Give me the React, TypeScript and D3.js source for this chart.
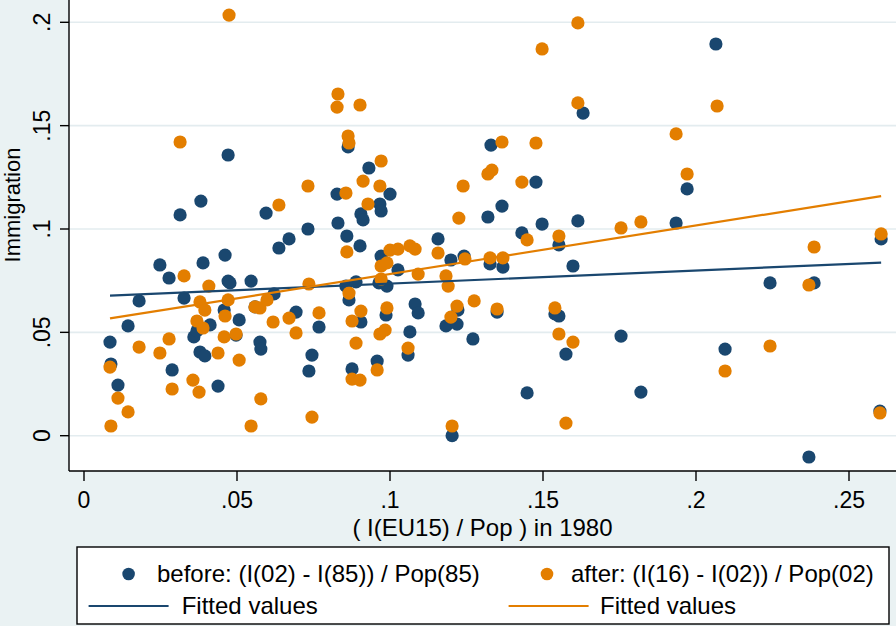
import React from "react";
import * as d3 from "d3";

// ---- data ----
const beforeX = [
  0.0085, 0.0088, 0.0111, 0.0144, 0.018, 0.0248, 0.0278, 0.0288, 0.0314, 0.0327,
  0.0359, 0.0369, 0.0379, 0.0382, 0.0389, 0.0395, 0.0412, 0.0438, 0.0458, 0.0461,
  0.0471, 0.0471, 0.0477, 0.0497, 0.0507, 0.0546, 0.0559, 0.0575, 0.0578, 0.0595,
  0.0621, 0.0637, 0.067, 0.0693, 0.0732, 0.0735, 0.0745, 0.0768, 0.0827, 0.083,
  0.0856, 0.0859, 0.0863, 0.0866, 0.0876, 0.0889, 0.0902, 0.0905, 0.0905, 0.0912,
  0.0931, 0.0958, 0.0964, 0.0967, 0.0971, 0.0971, 0.0987, 0.099, 0.1, 0.1026,
  0.1059, 0.1065, 0.1082, 0.1092, 0.1157, 0.1183, 0.1199, 0.1203, 0.1219, 0.1222,
  0.1242, 0.1271, 0.132, 0.1327, 0.133, 0.135, 0.1366, 0.1369, 0.1431, 0.1448,
  0.1477, 0.1497, 0.1539, 0.1552, 0.1552, 0.1575, 0.1598, 0.1614, 0.1631, 0.1755,
  0.182, 0.1935, 0.1971, 0.2065, 0.2095, 0.2242, 0.2369, 0.2386, 0.2601, 0.2605,
];
const beforeY = [
  0.0453, 0.0347, 0.0245, 0.0531, 0.0652, 0.0826, 0.0763, 0.0318, 0.1068, 0.0666,
  0.0478, 0.0507, 0.0405, 0.1135, 0.0836, 0.0386, 0.0536, 0.024, 0.0608, 0.0874,
  0.0748, 0.1358, 0.0739, 0.0487, 0.056, 0.0748, 0.0623, 0.0453, 0.0419, 0.1077,
  0.0686, 0.0908, 0.0952, 0.0598, 0.1, 0.0313, 0.039, 0.0526, 0.1169, 0.1029,
  0.0724, 0.0966, 0.1397, 0.0657, 0.0323, 0.0744, 0.0918, 0.1073, 0.055, 0.1044,
  0.1295, 0.0361, 0.0739, 0.1121, 0.1087, 0.0869, 0.0584, 0.0724, 0.1169, 0.0802,
  0.039, 0.0502, 0.0637, 0.0594, 0.0952, 0.0531, 0.085, 0.0, 0.054, 0.0608,
  0.0869, 0.0468, 0.1058, 0.0831, 0.1406, 0.0598, 0.1111, 0.0816, 0.0981, 0.0207,
  0.1227, 0.1024, 0.0589, 0.0923, 0.0579, 0.0395, 0.0821, 0.1039, 0.1561, 0.0482,
  0.0211, 0.1029, 0.1194, 0.1895, 0.0419, 0.0739, -0.0103, 0.0739, 0.0119, 0.0952,
];
const afterX = [
  0.0085, 0.0088, 0.0111, 0.0144, 0.018, 0.0248, 0.0278, 0.0288, 0.0314, 0.0327,
  0.0356, 0.0369, 0.0376, 0.0379, 0.0389, 0.0395, 0.0408, 0.0438, 0.0458, 0.0461,
  0.0471, 0.0474, 0.0497, 0.0507, 0.0546, 0.0559, 0.0575, 0.0578, 0.0598, 0.0618,
  0.0637, 0.067, 0.0693, 0.0732, 0.0735, 0.0745, 0.0768, 0.0827, 0.083, 0.0856,
  0.0859, 0.0863, 0.0866, 0.0866, 0.0876, 0.0876, 0.0889, 0.0902, 0.0902, 0.0905,
  0.0912, 0.0928, 0.0958, 0.0967, 0.0967, 0.0971, 0.0971, 0.0971, 0.0984, 0.099,
  0.099, 0.1, 0.1026, 0.1059, 0.1065, 0.1082, 0.1092, 0.1157, 0.1183, 0.119,
  0.1199, 0.1203, 0.1219, 0.1225, 0.1239, 0.1245, 0.1275, 0.132, 0.1327, 0.1333,
  0.135, 0.1366, 0.1369, 0.1431, 0.1448, 0.1477, 0.1497, 0.1539, 0.1552, 0.1552,
  0.1575, 0.1598, 0.1614, 0.1614, 0.1755, 0.182, 0.1935, 0.1971, 0.2069, 0.2095,
  0.2242, 0.2369, 0.2386, 0.2601, 0.2605,
];
const afterY = [
  0.0332, 0.0047, 0.0182, 0.0115, 0.0429, 0.04, 0.0468, 0.0226, 0.1421, 0.0773,
  0.0269, 0.0555, 0.0211, 0.0647, 0.0521, 0.0608, 0.0724, 0.04, 0.0478, 0.0579,
  0.0657, 0.2035, 0.0492, 0.0366, 0.0047, 0.0623, 0.0618, 0.0178, 0.0657, 0.055,
  0.1116, 0.0569, 0.0497, 0.1208, 0.0734, 0.009, 0.0594, 0.159, 0.1653, 0.1174,
  0.0889, 0.145, 0.1416, 0.069, 0.0555, 0.0274, 0.0448, 0.16, 0.0269, 0.0603,
  0.1232, 0.1121, 0.0318, 0.1208, 0.0492, 0.1329, 0.0821, 0.0758, 0.0511, 0.0836,
  0.0618, 0.0898, 0.0903, 0.0424, 0.0918, 0.0903, 0.0782, 0.0884, 0.0773, 0.0724,
  0.0574, 0.0047, 0.0627, 0.1053, 0.1208, 0.0855, 0.0652, 0.1266, 0.086, 0.1285,
  0.0613, 0.1421, 0.086, 0.1227, 0.0947, 0.1416, 0.1871, 0.0618, 0.0492, 0.0966,
  0.0061, 0.0453, 0.1997, 0.161, 0.1005, 0.1034, 0.146, 0.1266, 0.1595, 0.0313,
  0.0434, 0.0729, 0.0913, 0.011, 0.0976,
];

const xTicks = [0, 0.05, 0.1, 0.15, 0.2, 0.25];
const xTickLabels = ["0", ".05", ".1", ".15", ".2", ".25"];
const yTicks = [0, 0.05, 0.1, 0.15, 0.2];
const yTickLabels = ["0", ".05", ".1", ".15", ".2"];

const seriesNames = [
  "before: (I(02) - I(85)) / Pop(85)",
  "after: (I(16) - I(02)) / Pop(02)",
];
const fitName = "Fitted values";
const xTitle = "( I(EU15) / Pop ) in 1980";
const yTitle = "Immigration";

const NAVY = "#1A476F";
const ORANGE = "#E37E00";
const BG = "#EAF2F3";
const GRID = "#E3ECEF";
const FONT = "'Liberation Sans', Arial, sans-serif";

function ols(xs: number[], ys: number[]) {
  const mx = d3.mean(xs) as number;
  const my = d3.mean(ys) as number;
  let sxy = 0;
  let sxx = 0;
  xs.forEach((x, i) => {
    sxy += (x - mx) * (ys[i] - my);
    sxx += (x - mx) * (x - mx);
  });
  const b = sxy / sxx;
  const a = my - b * mx;
  const [x0, x1] = d3.extent(xs) as [number, number];
  return [
    [x0, a + b * x0],
    [x1, a + b * x1],
  ] as [number, number][];
}

export default function App() {
  const W = 896;
  const H = 626;
  const plotL = 69;
  const plotR = 896;
  const plotT = 0;
  const plotB = 471;

  const x = d3.scaleLinear().domain([0, 0.25]).range([84, 849]);
  const y = d3.scaleLinear().domain([0, 0.2]).range([435.7, 22.3]);

  const line = d3
    .line<[number, number]>()
    .x((d) => x(d[0]))
    .y((d) => y(d[1]));

  const fitBefore = ols(beforeX, beforeY);
  const fitAfter = ols(afterX, afterY);

  const fsTick = 23;
  const fs = 24;

  return (
    <svg
      width={W}
      height={H}
      style={{ position: "absolute", left: 0, top: 0 }}
      fontFamily={FONT}
    >
      <rect x={0} y={0} width={W} height={H} fill={BG} />
      <rect x={plotL} y={plotT} width={plotR - plotL} height={plotB - plotT} fill="#fff" />
      {yTicks.map((t) => (
        <line key={"g" + t} x1={plotL} x2={plotR} y1={y(t)} y2={y(t)} stroke={GRID} strokeWidth={1.6} />
      ))}
      {/* markers */}
      {beforeX.map((v, i) => (
        <circle key={"b" + i} cx={x(v)} cy={y(beforeY[i])} r={6.6} fill={NAVY} />
      ))}
      {afterX.map((v, i) => (
        <circle key={"a" + i} cx={x(v)} cy={y(afterY[i])} r={6.6} fill={ORANGE} />
      ))}
      <path d={line(fitBefore) as string} stroke={NAVY} strokeWidth={2.2} fill="none" />
      <path d={line(fitAfter) as string} stroke={ORANGE} strokeWidth={2.2} fill="none" />

      {/* axes */}
      <line x1={plotL} x2={plotL} y1={plotT} y2={plotB} stroke="#000" strokeWidth={1.4} />
      <line x1={plotL} x2={plotR} y1={plotB} y2={plotB} stroke="#000" strokeWidth={1.4} />
      {yTicks.map((t, i) => (
        <g key={"yt" + t}>
          <line x1={60} x2={plotL} y1={y(t)} y2={y(t)} stroke="#000" strokeWidth={1.4} />
          <text
            transform={`translate(50,${y(t)}) rotate(-90)`}
            textAnchor="middle"
            fontSize={fsTick}
            fill="#000"
          >
            {yTickLabels[i]}
          </text>
        </g>
      ))}
      {xTicks.map((t, i) => (
        <g key={"xt" + t}>
          <line x1={x(t)} x2={x(t)} y1={plotB} y2={plotB + 10} stroke="#000" strokeWidth={1.4} />
          <text x={x(t)} y={508} textAnchor="middle" fontSize={fsTick} fill="#000">
            {xTickLabels[i]}
          </text>
        </g>
      ))}
      <text x={(plotL + plotR) / 2} y={536} textAnchor="middle" fontSize={fs} fill="#000">
        {xTitle}
      </text>
      <text transform={`translate(20,205) rotate(-90)`} textAnchor="middle" fontSize={22} fill="#000">
        {yTitle}
      </text>

      {/* legend */}
      <rect x={77} y={547} width={812} height={77} fill="#fff" stroke="#000" strokeWidth={1.4} />
      <circle cx={128.6} cy={574} r={6.3} fill={NAVY} />
      <text x={157} y={582} fontSize={fs} fill="#000">{seriesNames[0]}</text>
      <circle cx={547} cy={574} r={6.3} fill={ORANGE} />
      <text x={571} y={582} fontSize={fs} fill="#000">{seriesNames[1]}</text>
      <line x1={88.6} x2={168.6} y1={606} y2={606} stroke={NAVY} strokeWidth={2.2} />
      <text x={181.7} y={614} fontSize={fs} fill="#000">{fitName}</text>
      <line x1={508.6} x2={588.6} y1={606} y2={606} stroke={ORANGE} strokeWidth={2.2} />
      <text x={600} y={614} fontSize={fs} fill="#000">{fitName}</text>
    </svg>
  );
}
